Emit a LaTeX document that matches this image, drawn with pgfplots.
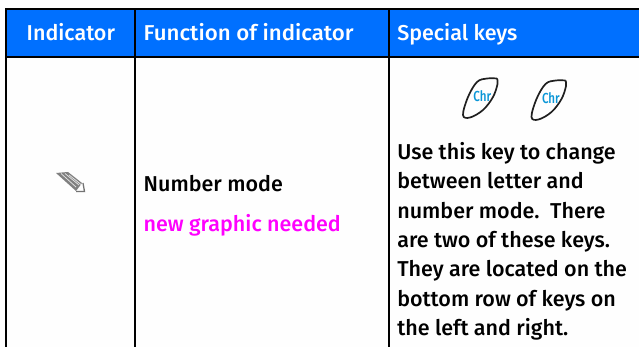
\documentclass[border=0pt]{standalone}
\usepackage{fontspec}
\setmainfont{Fira Sans}[BoldFont={Fira Sans Medium}]
\usepackage{pgfplots}
\pgfplotsset{compat=1.18}
\definecolor{hdr}{RGB}{0,112,255}
\definecolor{chr}{RGB}{10,150,215}
\definecolor{mag}{RGB}{255,0,255}
\definecolor{bg}{RGB}{254,254,254}
\newcommand{\hdrfont}{\fontsize{21.5}{24}\selectfont\bfseries}
\tikzset{t/.style={inner sep=0pt, outer sep=0pt, anchor=base west, font=\hdrfont}}
\begin{document}
\begin{tikzpicture}
\begin{axis}[
  scale only axis, width=639pt, height=347pt,
  xmin=0, xmax=639, ymin=0, ymax=347, y dir=reverse,
  axis lines=none, clip=true,
]
% background
\addplot[fill=bg, draw=none] coordinates {(0,0) (639,0) (639,347) (0,347)} -- cycle;
% header band
\addplot[fill=hdr, draw=none] coordinates {(6,9) (639,9) (639,57) (6,57)} -- cycle;
% rules
\addplot[black, line width=1.6pt] coordinates {(5,9.2) (639,9.2)};
\addplot[black, line width=1.6pt] coordinates {(5,57) (639,57)};
\addplot[black, line width=1.6pt] coordinates {(6,8.4) (6,347)};
\addplot[black, line width=1.6pt] coordinates {(135,8.4) (135,347)};
\addplot[black, line width=1.6pt] coordinates {(388.7,8.4) (388.7,347)};
% pencil
\addplot[fill=black!50, draw=none] coordinates {(56,173) (68,172) (82,183) (76,191)} -- cycle;
\addplot[black!12, line width=0.8pt] coordinates {(61,173.5) (76,187)};
\addplot[black!12, line width=0.8pt] coordinates {(65,173.5) (79,185)};
\addplot[black!12, line width=0.8pt] coordinates {(69,175) (81,184.5)};
\addplot[black!55, line width=1.3pt] coordinates {(83,183) (84.5,191.5) (76,191.5)};
% keys
\addplot[black!88, line width=1.7pt, smooth, tension=0.6] coordinates {(497,78.5) (487,78.5) (477,82) (468,97) (463,115) (470,117.5) (483,110) (493,97) (497.5,84) (497,78.5)};
\addplot[black!88, line width=1.7pt, smooth, tension=0.6] coordinates {(565.5,80.5) (555.5,80.5) (545.5,84) (536.5,99) (531.5,117) (538.5,119.5) (551.5,112) (561.5,99) (566,86) (565.5,80.5)};
\node[t, text=chr, font=\fontsize{14.5}{16}\selectfont\bfseries, xscale=0.8] at (axis cs:473.3,101.7) {Chr};
\node[t, text=chr, font=\fontsize{14.5}{16}\selectfont\bfseries, xscale=0.8] at (axis cs:542,103.3) {Chr};
% header text
\node[t, text=white] at (axis cs:26.7,40.7) {Indicator};
\node[t, text=white, xscale=1.035] at (axis cs:143.7,40.7) {Function of indicator};
\node[t, text=white] at (axis cs:397.3,40.7) {Special keys};
% body
\node[t] at (axis cs:143.7,191.7) {Number mode};
\node[t, text=mag] at (axis cs:143.7,231.7) {new graphic needed};
\node[t] at (axis cs:397.3,159.3) {Use this key to change};
\node[t] at (axis cs:397.3,188.7) {between letter and};
\node[t] at (axis cs:397.3,218.1) {number mode.\ \ There};
\node[t] at (axis cs:397.3,247.5) {are two of these keys.};
\node[t] at (axis cs:397.3,276.9) {They are located on the};
\node[t] at (axis cs:397.3,306.3) {bottom row of keys on};
\node[t] at (axis cs:397.3,335.7) {the left and right.};
\end{axis}
\end{tikzpicture}
\end{document}
